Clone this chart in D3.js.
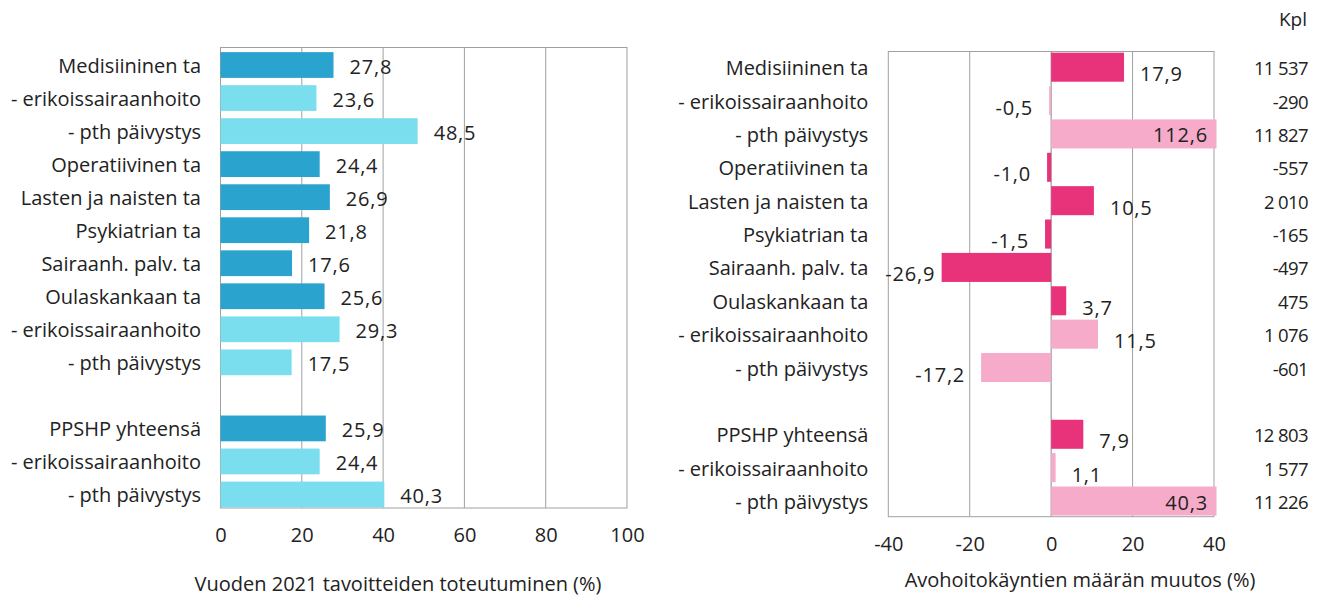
<!DOCTYPE html>
<html>
<head>
<meta charset="utf-8">
<script src="https://cdn.jsdelivr.net/npm/d3@7"></script>
<style>
  body { margin: 0; background: #fff; }
  svg { display: block; font-family: "Open Sans", sans-serif; }
</style>
</head>
<body>
<svg id="chart" width="1317" height="598"></svg>
<script>
// rows (null = empty gap row)
var categories = ["Medisiininen ta", "- erikoissairaanhoito", "- pth päivystys", "Operatiivinen ta",
  "Lasten ja naisten ta", "Psykiatrian ta", "Sairaanh. palv. ta", "Oulaskankaan ta",
  "- erikoissairaanhoito", "- pth päivystys", null, "PPSHP yhteensä", "- erikoissairaanhoito", "- pth päivystys"];
var subRow = [false, true, true, false, false, false, false, false, true, true, null, false, true, true];

// Vuoden 2021 tavoitteiden toteutuminen (%)
var goalPct = [27.8, 23.6, 48.5, 24.4, 26.9, 21.8, 17.6, 25.6, 29.3, 17.5, null, 25.9, 24.4, 40.3];
// Avohoitokäyntien määrän muutos (%)
var changePct = [17.9, -0.5, 112.6, -1.0, 10.5, -1.5, -26.9, 3.7, 11.5, -17.2, null, 7.9, 1.1, 40.3];
// Kpl
var changeKpl = [11537, -290, 11827, -557, 2010, -165, -497, 475, 1076, -601, null, 12803, 1577, 11226];

var leftTicks = [0, 20, 40, 60, 80, 100];
var rightTicks = [-40, -20, 0, 20, 40];

var fi = d3.formatLocale({decimal: ",", thousands: "\u2009", grouping: [3], currency: ["", ""], minus: "-"});
var fmt1 = fi.format(".1f");
var fmtInt = fi.format(",d");

var svg = d3.select("#chart");
var gridColor = "#a0a0a0";
var textColor = "#222";
var rows = d3.range(categories.length);

// ---------- left chart ----------
var L = {x0: 220.5, x1: 627, top: 47.5, bottom: 508};
var xL = d3.scaleLinear().domain([0, 100]).range([L.x0, L.x1]);
var yL = d3.scaleBand().domain(rows).range([48.5, 511]).paddingInner(0.22).paddingOuter(0.11);

var gL = svg.append("g");
gL.selectAll(".grid").data(leftTicks.slice(1, -1)).join("line")
  .attr("x1", d => xL(d)).attr("x2", d => xL(d))
  .attr("y1", L.top).attr("y2", L.bottom)
  .attr("stroke", gridColor).attr("stroke-width", 1);
gL.append("rect").attr("x", L.x0).attr("y", L.top)
  .attr("width", L.x1 - L.x0).attr("height", L.bottom - L.top)
  .attr("fill", "none").attr("stroke", gridColor).attr("stroke-width", 1);

var leftData = rows.filter(i => categories[i] !== null);

gL.selectAll(".bar").data(leftData).join("rect")
  .attr("x", xL(0))
  .attr("y", i => yL(i))
  .attr("width", i => xL(goalPct[i]) - xL(0))
  .attr("height", yL.bandwidth())
  .attr("fill", i => subRow[i] ? "#7bdeee" : "#2ba3cf");

gL.selectAll(".val").data(leftData).join("text")
  .attr("x", i => xL(goalPct[i]) + 16)
  .attr("y", i => yL(i) + yL.bandwidth() / 2 + 9)
  .attr("font-size", 20).attr("letter-spacing", 0.8).attr("fill", textColor)
  .text(i => fmt1(goalPct[i]));

gL.selectAll(".cat").data(leftData).join("text")
  .attr("x", 201)
  .attr("y", i => yL(i) + yL.bandwidth() / 2 + 7.5)
  .attr("text-anchor", "end").attr("font-size", 20).attr("fill", textColor)
  .text(i => categories[i]);

var axL = gL.append("g").attr("transform", "translate(0," + L.bottom + ")")
  .call(d3.axisBottom(xL).tickValues(leftTicks).tickSize(0).tickPadding(20).tickFormat(fi.format("d")));
axL.select(".domain").remove();
axL.selectAll("text").attr("font-family", "Open Sans").attr("font-size", 20).attr("fill", textColor);

gL.append("text").attr("x", 398).attr("y", 591)
  .attr("text-anchor", "middle").attr("font-size", 20).attr("fill", textColor)
  .text("Vuoden 2021 tavoitteiden toteutuminen (%)");

// ---------- right chart ----------
var R = {x0: 888.3, x1: 1214, top: 51.5, bottom: 516.7};
var xR = d3.scaleLinear().domain([-40, 40]).range([R.x0, R.x1]).clamp(true);
var yR = d3.scaleBand().domain(rows).range([R.top, R.bottom]).paddingInner(0.13).paddingOuter(0.035);

var gR = svg.append("g");
gR.selectAll(".grid").data(rightTicks.slice(1, -1)).join("line")
  .attr("x1", d => xR(d)).attr("x2", d => xR(d))
  .attr("y1", R.top).attr("y2", R.bottom)
  .attr("stroke", d => d === 0 ? "#888" : gridColor).attr("stroke-width", 1);
gR.append("rect").attr("x", R.x0).attr("y", R.top)
  .attr("width", R.x1 - R.x0).attr("height", R.bottom - R.top)
  .attr("fill", "none").attr("stroke", gridColor).attr("stroke-width", 1);

var rightData = rows.filter(i => categories[i] !== null);

// bars past the axis end run a little over the frame, like in the original
gR.selectAll(".bar").data(rightData).join("rect")
  .attr("x", i => Math.min(xR(0), xR(changePct[i])))
  .attr("y", i => yR(i))
  .attr("width", i => Math.abs(xR(changePct[i]) - xR(0)) + (changePct[i] > 40 ? 2.5 : 0))
  .attr("height", yR.bandwidth())
  .attr("fill", i => subRow[i] ? "#f5abc9" : "#e8327a");

gR.selectAll(".val").data(rightData).join("text")
  .attr("font-size", 20).attr("letter-spacing", 0.8).attr("fill", textColor)
  .text(i => fmt1(changePct[i]))
  .each(function(i) {
    var v = changePct[i];
    var mid = yR(i) + yR.bandwidth() / 2;
    var t = d3.select(this);
    if (v > xR.domain()[1]) {
      // bar runs past the axis: label inside the end
      t.attr("text-anchor", "end").attr("x", R.x1 - 6).attr("y", mid + 8.5);
    } else if (v >= 0) {
      t.attr("text-anchor", "start").attr("x", xR(v) + 16).attr("y", mid + 14);
    } else {
      var w = this.getComputedTextLength();
      var xe = Math.max(xR(v) - 16, R.x0 - 3 + w);
      t.attr("text-anchor", "end").attr("x", xe).attr("y", mid + 14);
    }
  });

gR.selectAll(".cat").data(rightData).join("text")
  .attr("x", 868.3)
  .attr("y", i => yR(i) + yR.bandwidth() / 2 + 8)
  .attr("text-anchor", "end").attr("font-size", 20).attr("fill", textColor)
  .text(i => categories[i]);

gR.selectAll(".kpl").data(rightData).join("text")
  .attr("x", 1308)
  .attr("y", i => yR(i) + yR.bandwidth() / 2 + 8)
  .attr("text-anchor", "end").attr("font-size", 18.5).attr("letter-spacing", -0.6).attr("fill", textColor)
  .text(i => fmtInt(changeKpl[i]).replace("\u2009", " "));

gR.append("text").attr("x", 1307).attr("y", 26)
  .attr("text-anchor", "end").attr("font-size", 19).attr("fill", textColor)
  .text("Kpl");

var axR = gR.append("g").attr("transform", "translate(0," + R.bottom + ")")
  .call(d3.axisBottom(xR).tickValues(rightTicks).tickSize(0).tickPadding(20).tickFormat(fi.format("d")));
axR.select(".domain").remove();
axR.selectAll("text").attr("font-family", "Open Sans").attr("font-size", 20).attr("fill", textColor);

gR.append("text").attr("x", 1080).attr("y", 587)
  .attr("text-anchor", "middle").attr("font-size", 20).attr("fill", textColor)
  .text("Avohoitokäyntien määrän muutos (%)");
</script>
</body>
</html>
